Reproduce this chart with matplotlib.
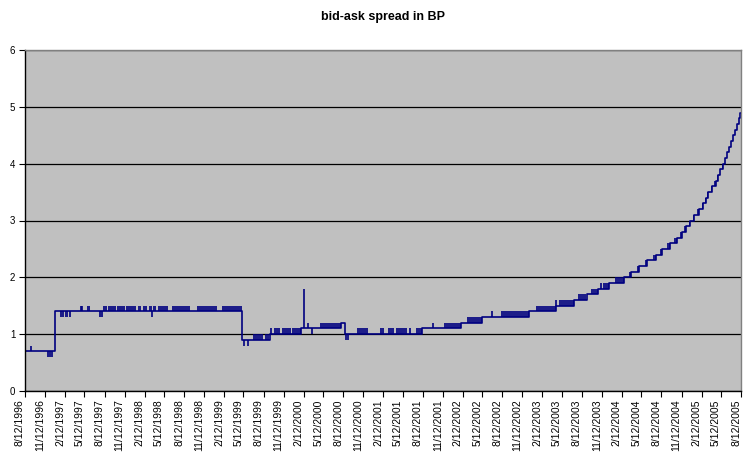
import numpy as np
import pandas as pd
import matplotlib
matplotlib.use("Agg")
import matplotlib.pyplot as plt

plt.rcParams["font.family"] = ["Liberation Sans", "DejaVu Sans"]

# level of the spread and the day it starts (BP)
step_dates = ["1996-08-12", "1996-12-30", "1999-05-05", "1999-09-10", "2000-01-29",
              "2000-07-31", "2000-08-20", "2001-08-10", "2002-02-04", "2002-05-13",
              "2002-12-15", "2003-04-16", "2003-07-07", "2003-09-05", "2003-10-26",
              "2003-12-13", "2004-02-23", "2004-03-26", "2004-05-02", "2004-06-07",
              "2004-07-19", "2004-08-16", "2004-09-18", "2004-10-20", "2004-11-13",
              "2004-12-01", "2004-12-23", "2005-01-10", "2005-01-30", "2005-02-18",
              "2005-03-03", "2005-03-15", "2005-04-02", "2005-04-17", "2005-04-30",
              "2005-05-09", "2005-05-23", "2005-06-01", "2005-06-10", "2005-06-20",
              "2005-06-29", "2005-07-08", "2005-07-17", "2005-07-24", "2005-08-02",
              "2005-08-09", "2005-08-12"]
step_levels = [0.7, 1.4, 0.9, 1.0, 1.1,
               1.2, 1.0, 1.1, 1.2, 1.3,
               1.4, 1.5, 1.6, 1.7, 1.8,
               1.9, 2.0, 2.1, 2.2, 2.3,
               2.4, 2.5, 2.6, 2.7, 2.8,
               2.9, 3.0, 3.1, 3.2, 3.3,
               3.4, 3.5, 3.6, 3.7, 3.8,
               3.9, 4.0, 4.1, 4.2, 4.3,
               4.4, 4.5, 4.6, 4.7, 4.8,
               4.9, 4.9]

# single-day spikes away from the current level
blip_dates = ["1996-09-07", "1997-04-28", "1997-05-02", "1998-03-16", "1999-05-15",
              "1999-06-01", "1999-09-16", "2000-02-14", "2000-03-02", "2000-03-22",
              "2000-08-23", "2000-09-03", "2001-09-26", "2002-06-28", "2003-04-18",
              "2003-11-06"]
blip_values = [0.8, 1.5, 1.5, 1.3, 0.8,
               0.8, 1.1, 1.8, 1.2, 1.0,
               0.9, 0.9, 1.2, 1.4, 1.6,
               1.9]

# stretches where the quote keeps flipping between two levels
band_start = ["1996-11-22", "1997-01-18", "1997-02-13", "1997-03-03", "1997-05-23",
              "1997-07-19", "1997-08-06", "1997-08-30", "1997-10-08", "1997-11-20",
              "1998-01-13", "1998-02-05", "1998-03-06", "1998-03-24", "1998-04-16",
              "1998-06-17", "1998-10-11", "1999-02-03", "1999-06-26", "1999-08-20",
              "1999-10-01", "1999-11-05", "1999-12-22", "2000-04-27", "2000-10-16",
              "2001-01-28", "2001-03-04", "2001-04-10", "2001-06-09", "2001-07-11",
              "2001-11-18", "2002-03-02", "2002-08-05", "2003-01-15", "2003-04-29",
              "2003-07-24", "2003-09-24", "2003-11-17", "2004-01-10", "2004-03-14",
              "2004-04-20", "2004-05-26", "2004-07-05", "2004-08-07", "2004-09-07",
              "2004-10-10", "2004-11-06", "2004-11-25", "2004-12-16", "2005-01-04",
              "2005-01-24", "2005-02-12", "2005-02-27", "2005-03-11", "2005-03-27",
              "2005-04-12", "2005-04-26", "2005-05-06", "2005-05-18"]
band_end = ["1996-12-18", "1997-02-08", "1997-02-27", "1997-03-11", "1997-06-06",
            "1997-08-04", "1997-08-24", "1997-10-02", "1997-11-12", "1998-01-04",
            "1998-01-28", "1998-02-24", "1998-03-16", "1998-04-05", "1998-06-01",
            "1998-09-09", "1999-01-10", "1999-05-05", "1999-08-10", "1999-09-08",
            "1999-10-28", "1999-12-14", "2000-01-29", "2000-07-31", "2000-12-02",
            "2001-02-17", "2001-04-02", "2001-06-02", "2001-06-18", "2001-08-10",
            "2002-02-04", "2002-05-13", "2002-12-15", "2003-04-16", "2003-07-07",
            "2003-09-01", "2003-10-25", "2003-12-13", "2004-02-23", "2004-03-26",
            "2004-05-02", "2004-06-07", "2004-07-19", "2004-08-16", "2004-09-18",
            "2004-10-20", "2004-11-13", "2004-12-01", "2004-12-23", "2005-01-10",
            "2005-01-30", "2005-02-18", "2005-03-03", "2005-03-15", "2005-04-02",
            "2005-04-17", "2005-04-30", "2005-05-09", "2005-05-23"]
band_lo = [0.6, 1.3, 1.3, 1.3, 1.4,
           1.3, 1.4, 1.4, 1.4, 1.4,
           1.4, 1.4, 1.4, 1.4, 1.4,
           1.4, 1.4, 1.4, 0.9, 0.9,
           1.0, 1.0, 1.0, 1.1, 1.0,
           1.0, 1.0, 1.0, 1.0, 1.0,
           1.1, 1.2, 1.3, 1.4, 1.5,
           1.6, 1.7, 1.8, 1.9, 2.0,
           2.1, 2.2, 2.3, 2.4, 2.5,
           2.6, 2.7, 2.8, 2.9, 3.0,
           3.1, 3.2, 3.3, 3.4, 3.5,
           3.6, 3.7, 3.8, 3.9]
band_hi = [0.7, 1.4, 1.4, 1.4, 1.5,
           1.4, 1.5, 1.5, 1.5, 1.5,
           1.5, 1.5, 1.5, 1.5, 1.5,
           1.5, 1.5, 1.5, 1.0, 1.0,
           1.1, 1.1, 1.1, 1.2, 1.1,
           1.1, 1.1, 1.1, 1.1, 1.1,
           1.2, 1.3, 1.4, 1.5, 1.6,
           1.7, 1.8, 1.9, 2.0, 2.1,
           2.2, 2.3, 2.4, 2.5, 2.6,
           2.7, 2.8, 2.9, 3.0, 3.1,
           3.2, 3.3, 3.4, 3.5, 3.6,
           3.7, 3.8, 3.9, 4.0]

start_date = "1996-08-12"
end_date = "2005-08-12"
navy = "#000080"


steps_x = pd.to_datetime(step_dates)
blips_x = pd.to_datetime(blip_dates)

fig = plt.figure(figsize=(7.43, 4.53), dpi=100)
ax = fig.add_axes([25 / 743, 62 / 453, 716 / 743, 341 / 453])
ax.set_facecolor("#c0c0c0")

# bands first, the step line goes on top
for s, e, lo, hi in zip(band_start, band_end, band_lo, band_hi):
    ax.fill_between(pd.to_datetime([s, e]), lo, hi, color=navy, lw=0, alpha=0.85)

ax.step(steps_x, step_levels, where="post", color=navy, lw=1.2)

# spikes go from the level in force on that day
idx = np.searchsorted(steps_x.values, blips_x.values, side="right") - 1
base = np.array(step_levels)[idx]
ax.vlines(blips_x, base, blip_values, color=navy, lw=1.2)

ax.set_xlim(pd.Timestamp(start_date), pd.Timestamp(end_date))
ax.set_ylim(0, 6)
ax.set_yticks(range(0, 7))
ax.yaxis.grid(True, color="black", lw=0.9)
ax.set_axisbelow(True)

# excel puts the rotated labels just left of their tick
ticks = [pd.Timestamp(start_date) + pd.DateOffset(months=3 * i) for i in range(37)]
ax.set_xticks(ticks)
ax.set_xticklabels([f"{d.month}/{d.day}/{d.year}" for d in ticks], rotation=90,
                   fontsize=7.5, ha="right")
ax.tick_params(axis="y", labelsize=7, length=4, width=0.8, pad=3)
ax.tick_params(axis="x", length=4, width=0.8, pad=2)

for side in ["top", "right"]:
    ax.spines[side].set_color("#808080")
    ax.spines[side].set_linewidth(1.0)
for side in ["left", "bottom"]:
    ax.spines[side].set_color("black")
    ax.spines[side].set_linewidth(1.0)

fig.text((25 + 741) / 2 / 743, 1 - 17 / 453, "bid-ask spread in BP", ha="center", va="center",
         fontsize=9, fontweight="bold")

plt.savefig("out.png", dpi=100)
